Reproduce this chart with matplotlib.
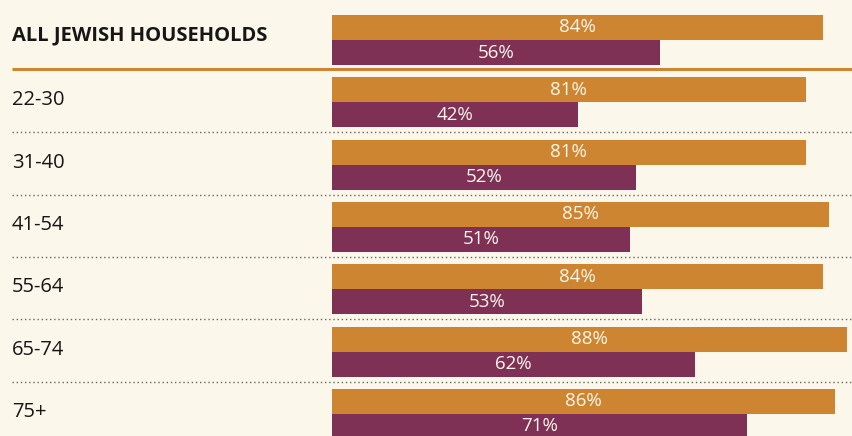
import matplotlib
matplotlib.use("Agg")
import matplotlib.pyplot as plt
from matplotlib.transforms import blended_transform_factory

# ---- Data ----
groups = ["ALL JEWISH HOUSEHOLDS", "22-30", "31-40", "41-54", "55-64", "65-74", "75+"]
top_vals = [84, 81, 81, 85, 84, 88, 86]      # orange series
bottom_vals = [56, 42, 52, 51, 53, 62, 71]   # maroon series

# ---- Style ----
BG = "#fcf7eb"
ORANGE = "#cd8532"
MAROON = "#7f3155"
TXT = "#161616"
LBL = "#fdf6ea"
FONT = ["Open Sans", "DejaVu Sans"]

W, H = 852, 436
X0_PX = 332          # left edge of bars
PX_PER_PCT = 5.85    # bar length per percent
ROW0_PX = 40         # centre of the first bar pair
ROW_PX = 62.33       # row pitch
BAR_PX = 25          # single bar height

plt.rcParams["font.family"] = FONT

fig = plt.figure(figsize=(W / 100, H / 100), dpi=100)
fig.patch.set_facecolor(BG)
ax = fig.add_axes([0, 0, 1, 1])
ax.set_facecolor(BG)
ax.set_xlim(-X0_PX / PX_PER_PCT, (W - X0_PX) / PX_PER_PCT)
ax.set_ylim((H - ROW0_PX) / ROW_PX, -ROW0_PX / ROW_PX)
ax.axis("off")

h = BAR_PX / ROW_PX
ys = list(range(len(groups)))
ax.barh([y - h / 2 for y in ys], top_vals, height=h, color=ORANGE, linewidth=0)
ax.barh([y + h / 2 for y in ys], bottom_vals, height=h, color=MAROON, linewidth=0)

for y, t, b in zip(ys, top_vals, bottom_vals):
    ax.text(t / 2, y - h / 2, f"{t}%", color=LBL, fontsize=13.5,
            ha="center", va="center")
    ax.text(b / 2, y + h / 2, f"{b}%", color=LBL, fontsize=13.5,
            ha="center", va="center")

# category labels on the left
tr = blended_transform_factory(fig.transFigure, ax.transData)
for y, g in zip(ys, groups):
    if y == 0:
        ax.text(12 / W, y - 0.08, g, transform=tr, fontsize=14.5, fontweight="bold",
                color=TXT, ha="left", va="center")
    else:
        ax.text(12 / W, y - 0.03, g, transform=tr, fontsize=14.5,
                color=TXT, ha="left", va="center")

# separators
ax.plot([12 / W, 1], [0.46, 0.46], transform=tr, color=ORANGE, lw=2.2,
        solid_capstyle="butt")
for y in ys[1:-1]:
    ax.plot([12 / W, 1], [y + 0.48, y + 0.48], transform=tr, color="#666666",
            lw=1.0, linestyle=(0, (1, 2)))

fig.savefig("out.png", dpi=100, facecolor=BG)
